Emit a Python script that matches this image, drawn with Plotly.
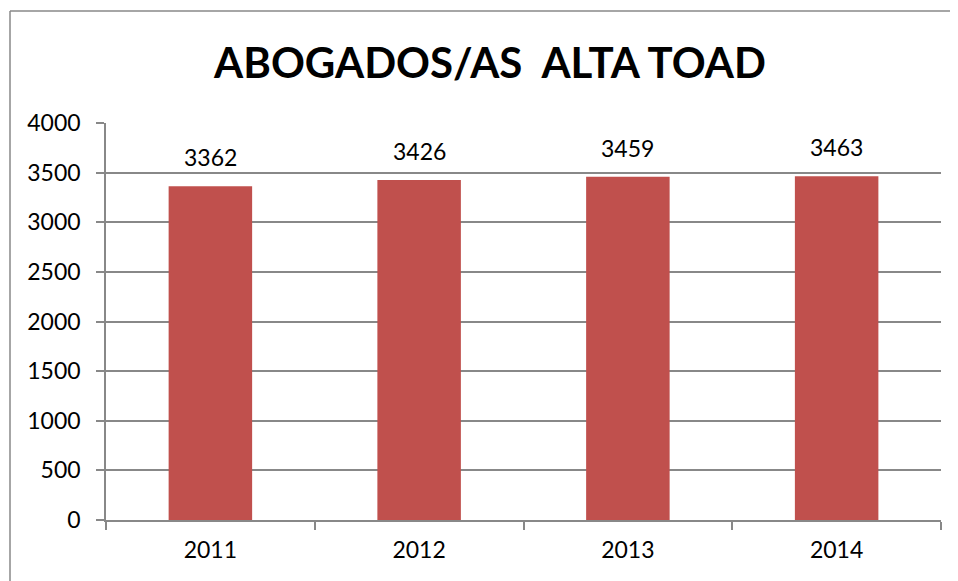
import plotly.graph_objects as go

years = ["2011", "2012", "2013", "2014"]
values = [3362, 3426, 3459, 3463]
title_text = "ABOGADOS/AS \u00a0ALTA TOAD"

# page has an 8px body margin; figure placed at (8, 8)
OFF = 8
W, H = 950, 573
L, R, T, B = 98, 17, 115, 61
pw, ph = W - L - R, H - T - B

def px_x(px):  # page pixel -> paper x
    return (px - OFF - L) / pw

def px_y(py):  # page pixel -> paper y
    return (H - B - (py - OFF)) / ph

font_family = "Lato, Carlito, 'Open Sans', sans-serif"
grid = "#888888"

fig = go.Figure(go.Bar(
    x=years, y=values,
    marker=dict(color="#C0504D", line=dict(width=0)),
    width=0.4,
    hoverinfo="x+y",
))

for i, v in enumerate(values):
    fig.add_annotation(x=i, y=v, xref="x", yref="y", text=str(v), showarrow=False,
                       yanchor="bottom", yshift=13,
                       font=dict(size=23, family=font_family, color="#000000"))

border = dict(color="#888888", width=1.5)
fig.update_layout(
    width=W, height=H,
    margin=dict(l=L, r=R, t=T, b=B),
    paper_bgcolor="white", plot_bgcolor="white",
    showlegend=False,
    font=dict(family=font_family, size=23, color="#000000"),
    title=dict(text="<b>" + title_text + "</b>", x=(490 - OFF) / W, xanchor="center",
               y=1 - (63 - OFF) / H, yanchor="middle",
               font=dict(size=42, family=font_family, color="#000000")),
    xaxis=dict(type="category", showline=True, linecolor=grid, linewidth=1.5,
               ticks="outside", tickson="boundaries", ticklen=8, tickcolor=grid,
               tickwidth=1.5, showgrid=False, tickfont=dict(size=23),
               ticklabelstandoff=9, range=[-0.5, 3.5]),
    yaxis=dict(range=[0, 4000], dtick=500, showline=True, linecolor=grid, linewidth=1.5,
               ticks="outside", ticklen=8, tickcolor=grid, tickwidth=1.5,
               showgrid=True, gridcolor=grid, gridwidth=1.5, zeroline=False,
               ticklabelstandoff=11, tickfont=dict(size=23)),
    shapes=[
        dict(type="line", xref="paper", yref="paper",
             x0=px_x(10), x1=px_x(10), y0=px_y(11), y1=px_y(600), line=border),
        dict(type="line", xref="paper", yref="paper",
             x0=px_x(10), x1=px_x(960), y0=px_y(11), y1=px_y(11), line=border),
    ],
)

fig.write_html("out.html")
